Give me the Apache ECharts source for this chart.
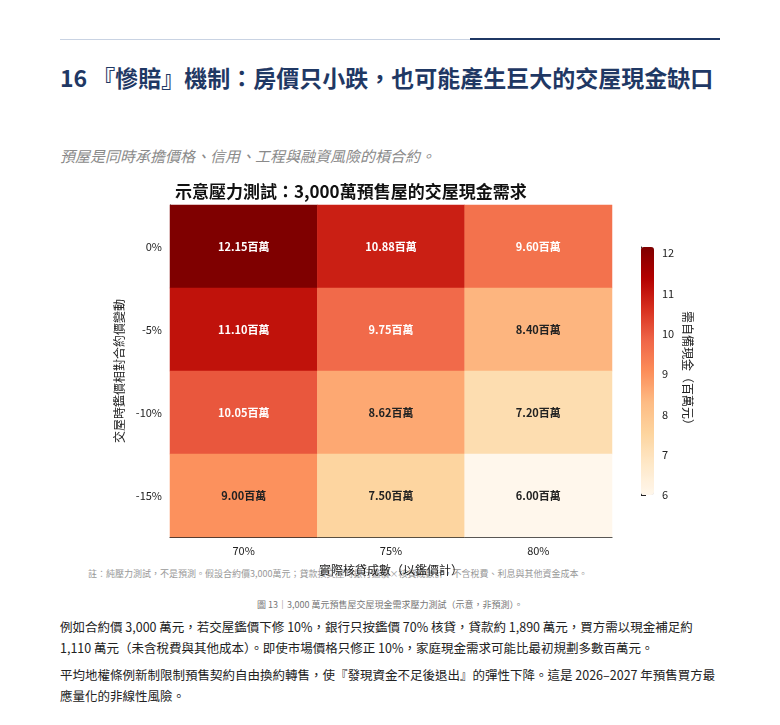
<!DOCTYPE html>
<html><head><meta charset="utf-8">
<script src="https://cdn.jsdelivr.net/npm/echarts@6/dist/echarts.min.js"></script>
<style>
body{margin:0;background:#fff;font-family:"Noto Sans CJK TC","Noto Sans",sans-serif;width:780px;height:725px;position:relative;overflow:hidden;color:#222}
.abs{position:absolute}
</style></head><body>
<div class="abs" style="left:60px;top:39px;width:660px;height:1px;background:#c9d3e3"></div>
<div class="abs" style="left:470px;top:38px;width:250px;height:2px;background:#1f3864"></div>
<div class="abs" style="left:60px;top:58px;width:670px;font-size:23px;font-weight:bold;color:#1f3864;line-height:38px">16 『慘賠』機制：房價只小跌，也可能產生巨大的交屋現金缺口</div>
<div class="abs" style="left:60px;top:145px;font-size:15px;font-style:italic;color:#8a8a8a">預屋是同時承擔價格、信用、工程與融資風險的槓合約。</div>
<div class="abs" style="left:88px;top:567px;font-size:9px;color:#999">註：純壓力測試，不是預測。假設合約價3,000萬元；貸款按交屋時銀行鑑價×核貸成數計，不含稅費、利息與其他資金成本。</div>
<div id="chart" class="abs" style="left:60px;top:172px;width:660px;height:420px"></div>
<div class="abs" style="left:0;top:598px;width:780px;text-align:center;font-size:9px;color:#777">圖 13｜3,000 萬元預售屋交屋現金需求壓力測試（示意，非預測）。</div>
<div class="abs" style="left:60px;top:616px;width:665px;font-size:12.5px;line-height:21px">例如合約價 3,000 萬元，若交屋鑑價下修 10%，銀行只按鑑價 70% 核貸，貸款約 1,890 萬元，買方需以現金補足約 1,110 萬元（未含稅費與其他成本）。即使市場價格只修正 10%，家庭現金需求可能比最初規劃多數百萬元。</div>
<div class="abs" style="left:60px;top:664px;width:665px;font-size:12.5px;line-height:21px">平均地權條例新制限制預售契約自由換約轉售，使『發現資金不足後退出』的彈性下降。這是 2026–2027 年預售買方最應量化的非線性風險。</div>
<script>
const loanRatios = ['70%', '75%', '80%'];
const priceChanges = ['0%', '-5%', '-10%', '-15%'];
const cashNeed = [
    [12.15, 10.88, 9.60],
    [11.10, 9.75, 8.40],
    [10.05, 8.62, 7.20],
    [9.00, 7.50, 6.00],
];
const cbMin = 6, cbMax = 12.15;

const cells = [];
cashNeed.forEach((row, r) => row.forEach((v, c) => cells.push([c, r, v])));

const chart = echarts.init(document.getElementById('chart'));
const ax = { color: '#222', fontSize: 11 };
chart.setOption({
    animation: false,
    textStyle: { fontFamily: 'Noto Sans CJK TC' },
    title: {
        text: '示意壓力測試：3,000萬預售屋的交屋現金需求', left: 110, top: 6,
        textStyle: { fontSize: 17, fontWeight: 'bold', color: '#111' },
    },
    grid: [
        { left: 110, top: 33, width: 442, height: 332 },
        { left: 581, top: 75, width: 13, height: 248 },
    ],
    xAxis: [
        { gridIndex: 0, type: 'category', data: loanRatios, name: '實際核貸成數（以鑑價計）', nameLocation: 'middle', nameGap: 27,
          nameTextStyle: { color: '#222', fontSize: 12 }, axisLabel: ax, axisLine: { lineStyle: { color: '#222' } },
          axisTick: { alignWithLabel: true, lineStyle: { color: '#222' } }, splitLine: { show: false } },
        { gridIndex: 1, type: 'value', show: false, min: 0, max: 1 },
    ],
    yAxis: [
        { gridIndex: 0, type: 'category', data: priceChanges, inverse: true, name: '交屋時鑑價相對合約價變動', nameLocation: 'middle', nameGap: 42,
          nameTextStyle: { color: '#222', fontSize: 12 }, axisLabel: ax, axisLine: { lineStyle: { color: '#222' } },
          axisTick: { alignWithLabel: true, lineStyle: { color: '#222' } } },
        { gridIndex: 1, type: 'value', position: 'right', min: cbMin, max: cbMax, interval: 1,
          name: '需自備現金（百萬元）', nameLocation: 'middle', nameGap: 28, nameRotate: -90,
          nameTextStyle: { color: '#222', fontSize: 12 },
          axisLabel: { color: '#222', fontSize: 11, showMaxLabel: false }, axisTick: { show: true, lineStyle: { color: '#222' } },
          axisLine: { show: true, lineStyle: { color: '#222' } }, splitLine: { show: false } },
    ],
    visualMap: {
        type: 'continuous', min: cbMin, max: cbMax, seriesIndex: 0, calculable: false,
        left: 641 - 60 , top: 247 - 172, itemWidth: 13, itemHeight: 248, text: ['', ''], showLabel: false, padding: 0,
        inRange: { color: ['#fff7ec', '#fee8c8', '#fdd49e', '#fdbb84', '#fc8d59', '#ef6548', '#d7301f', '#b30000', '#7f0000'] },
    },
    series: [
        {
            type: 'heatmap', xAxisIndex: 0, yAxisIndex: 0, data: cells,
            label: {
                show: true, fontSize: 11, fontWeight: 'bold',
                formatter: p => p.value[2].toFixed(2) + '百萬',
                rich: {},
            },
            itemStyle: { borderWidth: 0 },
        },
        { type: 'line', xAxisIndex: 1, yAxisIndex: 1, data: [], silent: true },
    ],
});
// label colour by value, as in the reference
chart.setOption({ series: [{ data: cells.map(d => ({ value: d, label: { color: d[2] > 9.3 ? '#fff' : '#222' } })) }] });
</script>
</body></html>
